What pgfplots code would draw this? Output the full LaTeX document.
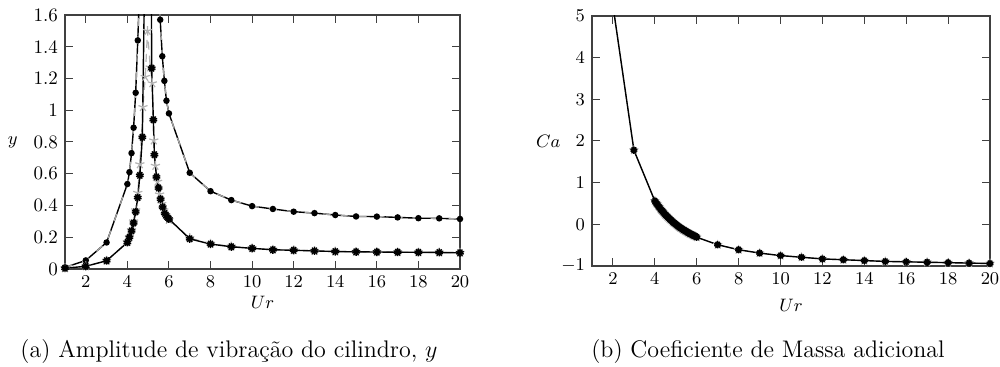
\documentclass[border=0pt]{standalone}
\usepackage{pgfplots}
\pgfplotsset{compat=1.18}
\usepackage{pgfplotstable}
\usetikzlibrary{plotmarks}

\pgfplotstableread{
x y
1 0.01
2 0.054
3 0.167
4 0.535
4.1 0.61
4.2 0.73
4.3 0.89
4.4 1.11
4.5 1.44
4.6 1.8
4.7 2.8
4.8 4.5
4.9 8
5.0 12
5.1 8
5.2 4.5
5.3 2.8
5.4 2.2
5.5 1.9
5.58 1.57
5.68 1.34
5.78 1.185
5.88 1.06
6 0.98
7 0.606
8 0.49
9 0.434
10 0.396
11 0.378
12 0.361
13 0.352
14 0.34
15 0.331
16 0.33
17 0.325
18 0.32
19 0.319
20 0.315
}\upper

\pgfplotstableread{
x y
1 0.005
2 0.017
3 0.052
4 0.167
4.1 0.2
4.2 0.24
4.3 0.29
4.4 0.36
4.5 0.45
4.6 0.59
4.72 0.83
4.82 1.75
4.9 4
5.0 8
5.1 4
5.15 1.9
5.17 1.265
5.25 0.94
5.3 0.72
5.4 0.58
5.5 0.51
5.6 0.44
5.7 0.39
5.8 0.35
5.9 0.33
6.0 0.315
7 0.19
8 0.157
9 0.14
10 0.13
11 0.121
12 0.118
13 0.114
14 0.11
15 0.108
16 0.107
17 0.106
18 0.105
19 0.104
20 0.102
}\lowerA

\pgfplotstableread{
x y
1 0.005
2 0.017
3 0.052
4 0.17
4.1 0.2
4.2 0.245
4.3 0.3
4.4 0.37
4.5 0.48
4.6 0.66
4.75 1.02
4.86 1.21
4.97 1.5
5.1 1.27
5.2 1.17
5.27 0.81
5.35 0.65
5.45 0.55
5.55 0.47
5.65 0.41
5.75 0.37
5.85 0.34
6 0.31
7 0.195
8 0.16
9 0.142
10 0.131
11 0.122
12 0.118
13 0.114
14 0.11
15 0.108
16 0.107
17 0.106
18 0.105
19 0.104
20 0.102
}\lowerB

\pgfplotstableread{
x y
2 5.25
3 1.78
4.00 0.56
4.05 0.52
4.10 0.49
4.15 0.45
4.20 0.42
4.25 0.38
4.30 0.35
4.35 0.32
4.40 0.29
4.45 0.26
4.50 0.23
4.55 0.21
4.60 0.18
4.65 0.16
4.70 0.13
4.75 0.11
4.80 0.09
4.85 0.06
4.90 0.04
4.95 0.02
5.00 0.00
5.05 -0.02
5.10 -0.04
5.15 -0.06
5.20 -0.08
5.25 -0.09
5.30 -0.11
5.35 -0.13
5.40 -0.14
5.45 -0.16
5.50 -0.17
5.55 -0.19
5.60 -0.20
5.65 -0.22
5.70 -0.23
5.75 -0.24
5.80 -0.26
5.85 -0.27
5.90 -0.28
5.95 -0.29
6.00 -0.31
7 -0.49
8 -0.61
9 -0.69
10 -0.75
11 -0.79
12 -0.83
13 -0.85
14 -0.87
15 -0.89
16 -0.90
17 -0.91
18 -0.92
19 -0.93
20 -0.94
}\camass

\pgfplotsset{
  myaxis/.style={
    scale only axis,
    anchor=south west,
    xmin=1, xmax=20,
    xtick={2,4,...,20},
    tick align=inside,
    axis line style={black!75, line width=0.6pt},
    every tick/.style={black!75, line width=0.5pt},
    major tick length=4pt,
    tick label style={font=\fontsize{9.5}{11}\selectfont},
    label style={font=\fontsize{9.5}{11}\selectfont},
    clip=true,
  }
}

\begin{document}
\begin{tikzpicture}
\useasboundingbox (0,0) rectangle (500pt,183.5pt);

\begin{axis}[myaxis,
  at={(32.5pt,49pt)}, width=197.5pt, height=127pt,
  ymin=0, ymax=1.6,
  ytick={0,0.2,...,1.6},
  yticklabels={0,0.2,0.4,0.6,0.8,1,1.2,1.4,1.6},
  xlabel={$Ur$},
  xlabel style={at={(axis description cs:0.5,-0.13)}, anchor=center},
  ylabel={$y$},
  ylabel style={at={(axis description cs:-0.132,0.5)}, rotate=-90, anchor=center},
]
\addplot[black, line width=0.7pt, mark=*, mark size=1.25pt, mark options={solid, fill=black}] table[x=x,y=y] {\upper};
\addplot[gray!70, line width=0.6pt, dash pattern=on 4pt off 5pt, mark=none] table[x=x,y=y] {\upper};
\addplot[gray!60, line width=0.6pt, dash pattern=on 4pt off 3pt, mark=star, mark size=2.4pt, mark options={solid, gray!60}] table[x=x,y=y] {\lowerB};
\addplot[black, line width=0.7pt, mark=10-pointed star, mark size=2pt, mark options={solid, fill=black!60, draw=black}] table[x=x,y=y] {\lowerA};
\end{axis}

\begin{axis}[myaxis,
  at={(296pt,50.5pt)}, width=199pt, height=125pt,
  ymin=-1, ymax=5,
  ytick={-1,0,...,5},
  xlabel={$Ur$},
  xlabel style={at={(axis description cs:0.5,-0.156)}, anchor=center},
  ylabel={$Ca$},
  ylabel style={at={(axis description cs:-0.11,0.5)}, rotate=-90, anchor=center},
]
\addplot[gray!60, line width=0.5pt, mark=star, mark size=2.4pt, mark options={solid, gray!60}] table[x=x,y=y] {\camass};
\addplot[black, line width=0.7pt, mark=10-pointed star, mark size=1.8pt, mark options={solid, fill=black, draw=black}] table[x=x,y=y] {\camass};
\end{axis}

\node[font=\large] at (114.5pt,7.5pt) {(a) Amplitude de vibração do cilindro, $y$};
\node[font=\large] at (384pt,7.5pt) {(b) Coeficiente de Massa adicional};
\end{tikzpicture}
\end{document}
